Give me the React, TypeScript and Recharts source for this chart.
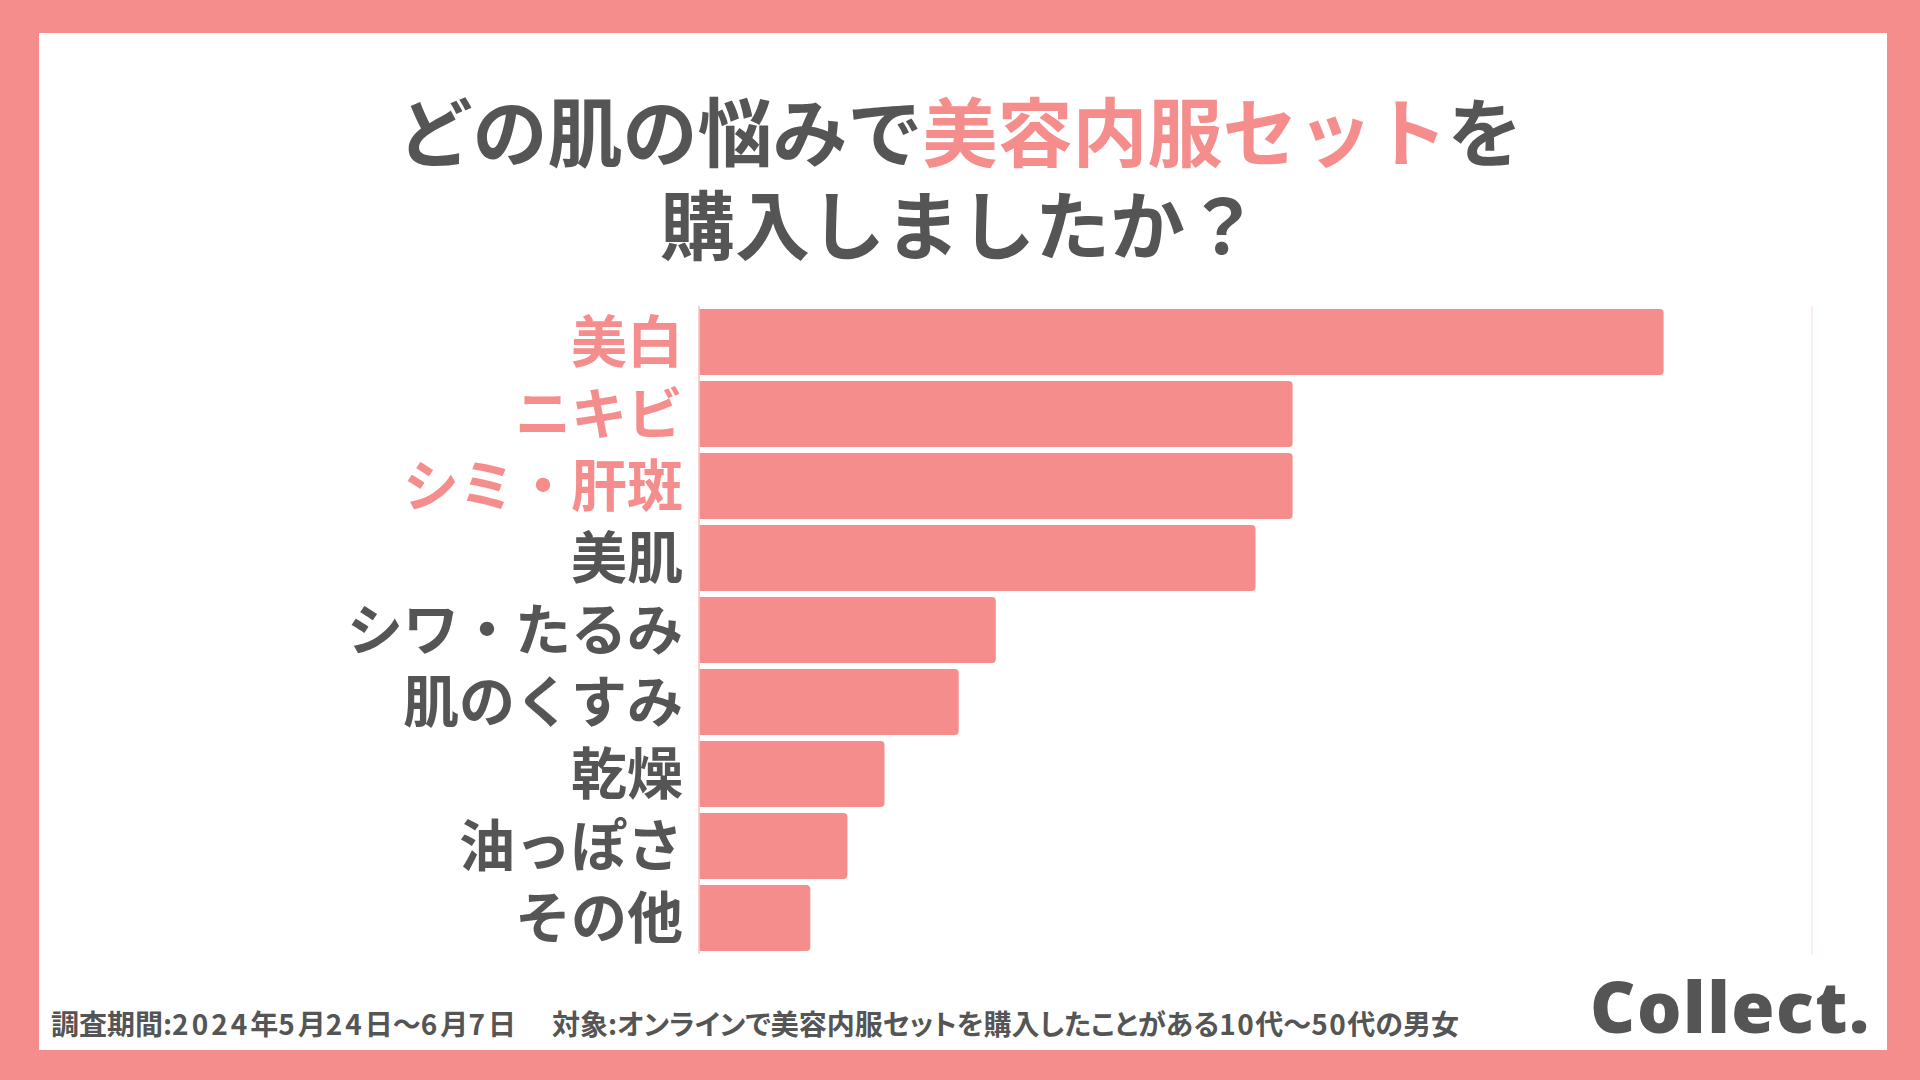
import React from "react";
import { Bar, BarChart, CartesianGrid, XAxis, YAxis } from "recharts";

// survey answers (% of respondents)
const categories = ["美白", "ニキビ", "シミ・肝斑", "美肌", "シワ・たるみ", "肌のくすみ", "乾燥", "油っぽさ", "その他"];
const shares = [26, 16, 16, 15, 8, 7, 5, 4, 3];
const highlighted = ["美白", "ニキビ", "シミ・肝斑"];
const xTicks = [0, 5, 10, 15, 20, 25, 30];
const period = "調査期間:2024年5月24日～6月7日";
const target = "対象:オンラインで美容内服セットを購入したことがある10代～50代の男女";

const PINK = "#F58D8C";
const GRAY = "#555555";
const JP = '"Noto Sans CJK JP", "Noto Sans", sans-serif';

const data = categories.map((name, i) => ({ name, value: shares[i] }));

function CategoryTick(props: any) {
  const { x, y, payload } = props;
  const isHot = highlighted.includes(payload.value);
  return (
    <text
      x={x}
      y={y}
      dy="0.36em"
      textAnchor="end"
      fill={isHot ? PINK : GRAY}
      fontSize={56}
      fontWeight={700}
      fontFamily={JP}
    >
      {payload.value}
    </text>
  );
}

// digits in the footnote are set a little wider than the CJK font's own
function Spaced({ text, digitGap }: { text: string; digitGap: number }) {
  const parts = text.split(/(\d+)/);
  return (
    <>
      {parts.map((p, i) =>
        /^\d+$/.test(p) ? (
          <span key={i} style={{ letterSpacing: digitGap }}>
            {p}
          </span>
        ) : (
          <span key={i}>{p}</span>
        )
      )}
    </>
  );
}

export default function App() {
  return (
    <div
      style={{
        position: "fixed",
        left: 0,
        top: 0,
        width: 1920,
        height: 1080,
        background: PINK,
        overflow: "hidden",
        fontFamily: JP,
      }}
    >
      <div
        style={{
          position: "absolute",
          left: 39,
          top: 33,
          width: 1848,
          height: 1017,
          background: "#ffffff",
        }}
      />

      <div
        style={{
          position: "absolute",
          left: 0,
          top: 82,
          width: 1920,
          textAlign: "center",
          fontSize: 75,
          lineHeight: "93px",
          fontWeight: 700,
          color: GRAY,
        }}
      >
        <div>
          どの肌の悩みで<span style={{ color: PINK }}>美容内服セット</span>を
        </div>
        <div>購入しましたか？</div>
      </div>

      <div style={{ position: "absolute", left: 0, top: 0 }}>
        <BarChart
          width={1920}
          height={1080}
          data={data}
          layout="vertical"
          margin={{ top: 306, right: 108, bottom: 126, left: 0 }}
          barCategoryGap={3}
        >
          <CartesianGrid horizontal={false} stroke="#FBE6EA" strokeWidth={1.5} />
          <XAxis
            type="number"
            domain={[0, 30]}
            ticks={xTicks}
            height={0}
            tick={false}
            axisLine={false}
            tickLine={false}
          />
          <YAxis
            type="category"
            dataKey="name"
            width={699}
            axisLine={{ stroke: "#F7C9C9", strokeWidth: 1.5 }}
            tickLine={false}
            tickSize={0}
            tickMargin={16}
            interval={0}
            tick={<CategoryTick />}
          />
          <Bar dataKey="value" fill={PINK} radius={[0, 4, 4, 0]} isAnimationActive={false} />
        </BarChart>
      </div>

      <div
        style={{
          position: "absolute",
          left: 51,
          top: 1009,
          fontSize: 28,
          lineHeight: "29px",
          fontWeight: 700,
          color: GRAY,
          whiteSpace: "nowrap",
          fontFeatureSettings: '"palt"',
        }}
      >
        <Spaced text={period} digitGap={3} />
        <span style={{ display: "inline-block", width: 36 }} />
        <Spaced text={target} digitGap={1.5} />
      </div>

      <div
        style={{
          position: "absolute",
          left: 1590,
          top: 971,
          fontSize: 70,
          lineHeight: "70px",
          fontWeight: 800,
          fontFamily: '"Open Sans", sans-serif',
          color: GRAY,
          letterSpacing: 1.5,
        }}
      >
        Collect.
      </div>
    </div>
  );
}
